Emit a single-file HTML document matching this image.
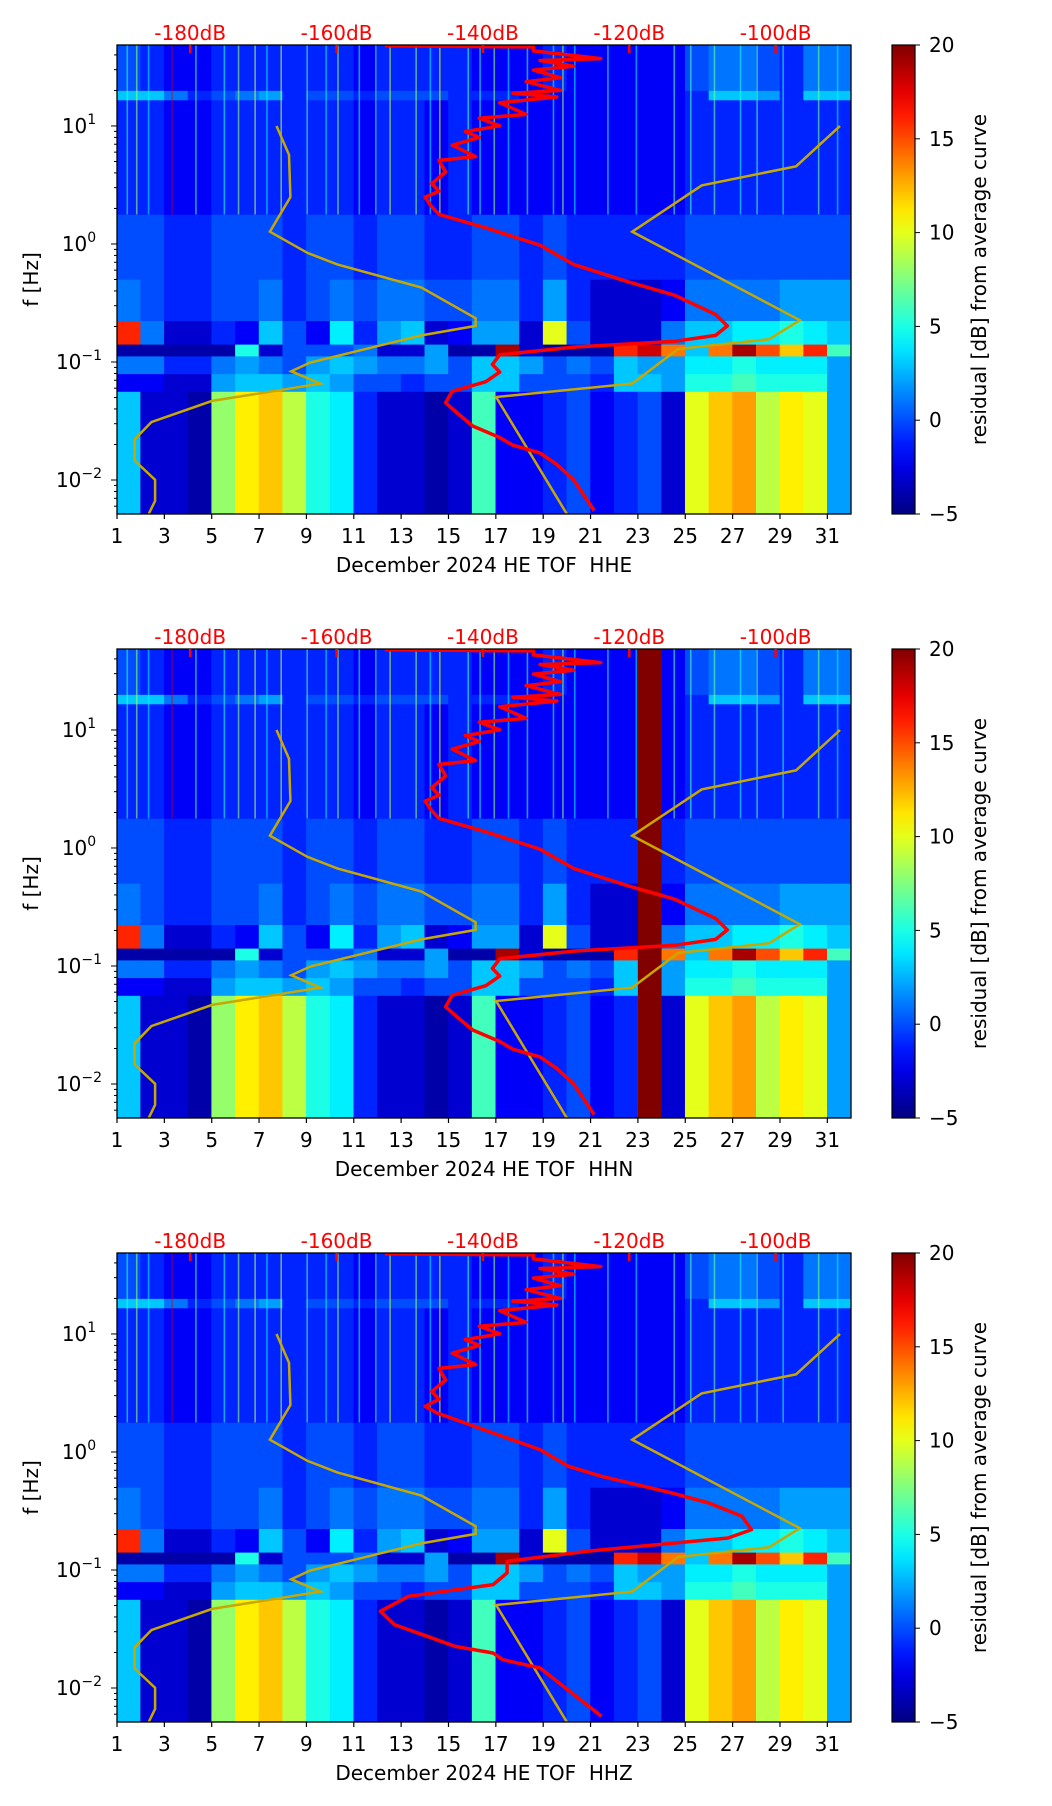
<!DOCTYPE html>
<html><head><meta charset="utf-8"><title>Spectrogram residuals HE TOF</title>
<style>
html,body{margin:0;padding:0;background:#fff}
svg{display:block;font-family:"DejaVu Sans","Liberation Sans",sans-serif}
</style></head>
<body>
<svg id="fig" width="1052" height="1806" viewBox="0 0 1052 1806" xmlns="http://www.w3.org/2000/svg"></svg>
<script>
// ---------- data ----------
const dayStart = 1, dayEnd = 32;
const logfMin = -2.288, logfMax = 1.686;
const dbMin = -190, dbMax = -89.7;
const cMin = -5, cMax = 20;
const xTicks = [1,3,5,7,9,11,13,15,17,19,21,23,25,27,29,31];
const yTickExp = [-2,-1,0,1];
const dbTicks = [-180,-160,-140,-120,-100];
const cbTicks = [-5,0,5,10,15,20];
const channels = ["HHE","HHN","HHZ"];

// frequency bands (log10 Hz edges)
const bandLo = [-2.288,-1.25,-1.1,-0.95,-0.85,-0.65,-0.3,0.25,1.22,1.30];
const bandHi = [-1.25,-1.1,-0.95,-0.85,-0.65,-0.3,0.25,1.22,1.30,1.686];
// residual values per band per day (31 days)
const band0 = [3,-3,-3,-4,8,11,12,9,5,4,-1,-3,-3,-4,-3,6,-2,-2,-1,0,-2,-1,0,-3,10,12,13,9,11,10,2];
const band1 = [-2,-2,-3,-3,2,3,3,2,3,2,0,0,-1,0,0,3,3,0,0,0,-1,3,3,2,5,5,6,5,5,5,2];
const band2 = [1,1,-1,-1,1,2,1,0,2,3,2,1,1,2,0,3,3,2,0,1,0,3,2,2,4,4,5,4,4,4,2];
const band3 = [-4,-4,-4,-4,-4,5,-3,0,0,0,1,-3,-3,2,-4,-4,19,-3,-4,-4,-4,16,18,14,3,14,19,15,12,16,6];
const band4 = [16,1,-3,-3,-1,-2,3,0,-2,4,-1,2,3,-3,-2,2,2,-3,10,0,-3,-3,-3,1,3,3,4,4,5,4,3];
const band5 = [1,0,-1,-1,0,0,1,-1,0,1,0,1,1,0,0,1,1,-1,2,-1,-3,-3,-3,-2,1,1,1,1,2,2,2];
const band6 = [0,0,-1,-1,0,0,0,-1,0,0,-1,0,0,-1,-1,0,0,-1,0,-1,-1,-1,-1,-1,0,0,0,0,0,0,0];
const band7 = [-1,-1,-2,-2,-1,-1,-1,-1,-1,-1,-2,-1,-1,-2,-1,-2,-2,-2,-2,-2,-2,-2,-2,-2,-1,-1,-1,-1,-1,-1,-1];
const band8 = [3,3,1,-1,0,1,2,-1,0,0,-1,0,0,0,-1,-1,-1,-2,-2,-2,-2,-2,-2,-2,-1,3,3,2,-1,3,3];
const band9 = [0,-1,-2,-2,-1,-1,-1,-1,-1,-1,-2,-1,-1,-1,-1,-2,-2,-2,-1,-2,-2,-2,-2,-2,0,1,1,0,-1,1,1];

// high-frequency transient streaks (day, value)
const streakDay = [1.4,1.8,2.3,3.3,4.3,5.5,6.1,6.8,7.3,7.9,9.0,9.8,10.3,11.2,11.9,12.5,13.6,14.2,14.6,15.8,16.3,16.9,17.5,18.3,19.4,19.8,20.3,21.7,22.9,24.5,25.2,26.2,27.3,28.0,29.1,30.6,31.4];
const streakVal = [5,8,4,18,6,5,8,9,4,9,6,4,8,5,6,9,8,4,10,6,5,8,4,6,5,8,4,5,4,6,6,7,5,6,5,7,4];

// mean PSD curve (dB, log10 f)
const redDb = [-153.4,-133.1,-133.1,-123.9,-132.2,-127.6,-133.1,-129.4,-134.1,-129.4,-135.9,-129.9,-137.7,-134.1,-140.5,-137.7,-142.4,-140.5,-144.2,-141.0,-146.0,-145.1,-147.0,-146.0,-147.9,-147.0,-146.0,-139.6,-132.2,-127.6,-120.2,-113.8,-108.2,-106.6,-108.2,-113.8,-127.6,-137.7,-138.7,-137.7,-139.6,-144.2,-145.1,-143.3,-141.4,-137.7,-135.9,-132.2,-129.9,-127.6,-124.8];
const redLogf = [1.679,1.67,1.636,1.571,1.555,1.506,1.473,1.408,1.375,1.301,1.278,1.245,1.197,1.098,1.066,1.001,0.952,0.903,0.837,0.740,0.708,0.610,0.512,0.447,0.397,0.316,0.251,0.137,-0.010,-0.173,-0.320,-0.434,-0.597,-0.694,-0.775,-0.825,-0.874,-0.939,-1.020,-1.086,-1.167,-1.248,-1.346,-1.444,-1.542,-1.640,-1.705,-1.770,-1.868,-1.998,-2.258];
const redDbZ = [-153.4,-133.1,-133.1,-123.9,-132.2,-127.6,-133.1,-129.4,-134.1,-129.4,-135.9,-129.9,-137.7,-134.1,-140.5,-137.7,-142.4,-140.5,-144.2,-141.0,-146.0,-145.1,-147.0,-146.0,-147.9,-146.3,-138.6,-132.2,-128.3,-123.8,-114.2,-109.1,-104.6,-103.3,-106.5,-125.8,-136.7,-136.7,-138.6,-150.2,-154.0,-152.1,-147.6,-143.8,-138.6,-137.3,-132.2,-129.6,-123.8];
const redLogfZ = [1.679,1.67,1.636,1.571,1.555,1.506,1.473,1.408,1.375,1.301,1.278,1.245,1.197,1.098,1.066,1.001,0.952,0.903,0.837,0.740,0.708,0.610,0.512,0.447,0.387,0.331,0.161,0.020,-0.121,-0.206,-0.347,-0.432,-0.545,-0.658,-0.729,-0.842,-0.926,-1.025,-1.124,-1.223,-1.350,-1.463,-1.562,-1.647,-1.703,-1.760,-1.830,-1.957,-2.240];
// noise models
const nlnmDb = [-168.2,-166.5,-166.3,-169.1,-164.0,-159.9,-148.4,-141.0,-141.0,-148.4,-163.6,-166.2,-162.2,-177.0,-185.3,-187.6,-187.6,-184.8,-184.8,-185.7];
const nlnmLogf = [1.0,0.756,0.397,0.104,-0.075,-0.173,-0.369,-0.629,-0.694,-0.775,-1.004,-1.079,-1.183,-1.330,-1.509,-1.656,-1.835,-1.998,-2.177,-2.291];
const nhnmDb = [-91.2,-97.2,-110.1,-119.6,-96.7,-100.9,-113.3,-119.6,-138.2,-128.5];
const nhnmLogf = [1.0,0.658,0.496,0.104,-0.646,-0.808,-0.889,-1.183,-1.297,-2.291];
// data gap (HHN)
const gapStart = [null, 23.0, null];
const gapEnd = [null, 24.0, null];

// ---------- layout ----------
const NS = "http://www.w3.org/2000/svg";
const svg = document.getElementById('fig');
const X0 = 117, X1 = 851, PH = 469, panelTop = [45, 649, 1253];
const CB0 = 892, CB1 = 915;
const FS = 20;
const bands = [band0,band1,band2,band3,band4,band5,band6,band7,band8,band9];

function mk(tag, attrs, parent){const e=document.createElementNS(NS,tag);for(const k in attrs)e.setAttribute(k,attrs[k]);(parent||svg).appendChild(e);return e;}
function clamp(v){return Math.max(0,Math.min(1,v));}
function jet(v){const t=clamp((v-cMin)/(cMax-cMin));const r=clamp(1.5-Math.abs(4*t-3)),g=clamp(1.5-Math.abs(4*t-2)),b=clamp(1.5-Math.abs(4*t-1));return `rgb(${Math.round(r*255)},${Math.round(g*255)},${Math.round(b*255)})`;}
const xDay = d => X0 + (d-dayStart)/(dayEnd-dayStart)*(X1-X0);
const xDb = db => X0 + (db-dbMin)/(dbMax-dbMin)*(X1-X0);

channels.forEach((ch, p) => {
  const T = panelTop[p], B = T + PH;
  const yF = lf => T + (logfMax-lf)/(logfMax-logfMin)*PH;
  const g = mk('g', {});
  
  
  const clipId = 'clip'+p;
  const cp = mk('clipPath', {id: clipId}, g);
  mk('rect', {x:X0, y:T, width:X1-X0, height:PH}, cp);
  const hm = mk('g', {'clip-path':`url(#${clipId})`}, g);
  
  
  bands.forEach((vals, r) => {
    vals.forEach((v, d) => {
      const c = mk('rect', {x:xDay(d+1)-0.3, y:yF(bandHi[r])-0.3, width:xDay(d+2)-xDay(d+1)+0.6, height:yF(bandLo[r])-yF(bandHi[r])+0.6, fill:jet(v)}, hm);
      
      
    });
  });
  streakDay.forEach((d, i) => {
    const s = mk('rect', {x:xDay(d), y:T, width:d===3.3?1.2:1.6, height:yF(0.25)-T, fill:jet(streakVal[i]), opacity:0.6}, hm);
    
    
  });
  if (gapStart[p] !== null) {
    const gr = mk('rect', {x:xDay(gapStart[p]), y:T, width:xDay(gapEnd[p])-xDay(gapStart[p]), height:PH, fill:jet(20)}, hm);
    
    
  }
  const rd = p===2 ? redDbZ : redDb, rl = p===2 ? redLogfZ : redLogf;
  const pts = (dbs, lfs) => dbs.map((v,i)=>`${xDb(v).toFixed(1)},${yF(lfs[i]).toFixed(1)}`).join(' ');
  const nl = mk('polyline', {points:pts(nlnmDb,nlnmLogf), fill:'none', stroke:'#c8a800', 'stroke-width':2.5}, hm);
   
  const nh = mk('polyline', {points:pts(nhnmDb,nhnmLogf), fill:'none', stroke:'#c8a800', 'stroke-width':2.5}, hm);
   
  const rc = mk('polyline', {points:pts(rd,rl), fill:'none', stroke:'#ff0000', 'stroke-width':3.5, 'stroke-linejoin':'round'}, hm);
   
  const fr = mk('rect', {x:X0, y:T, width:X1-X0, height:PH, fill:'none', stroke:'#000', 'stroke-width':1.3}, g);
   
  xTicks.forEach(d => {
    const x = xDay(d);
    mk('line', {x1:x, y1:B, x2:x, y2:B+5, stroke:'#000', 'stroke-width':1.2}, g);
    const t = mk('text', {x:x, y:B+29, 'text-anchor':'middle', 'font-size':FS, fill:'#000'}, g);
    t.textContent = d;
     
  });
  const xl = mk('text', {x:(X0+X1)/2, y:B+58, 'text-anchor':'middle', 'font-size':FS, fill:'#000'}, g);
  xl.textContent = 'December 2024 HE TOF\u00a0\u00a0' + ch;
   
  for (let e=-3; e<=1; e++) for (let m=1; m<=9; m++) {
    const lf = e + Math.log10(m);
    if (lf < logfMin || lf > logfMax) continue;
    const y = yF(lf);
    mk('line', {x1:X0, y1:y, x2:X0-(m===1?6:3), y2:y, stroke:'#000', 'stroke-width':1}, g);
  }
  yTickExp.forEach(e => {
    const y = yF(e);
    const t = mk('text', {x:X0-38, y:y+7, 'text-anchor':'middle', 'font-size':FS, fill:'#000'}, g);
    t.textContent = '10';
    const s = mk('tspan', {dy:-9, 'font-size':14}, t);
    s.textContent = e < 0 ? '\u2212' + Math.abs(e) : String(e);
     
  });
  const yl = mk('text', {x:0, y:0, 'text-anchor':'middle', 'font-size':FS, fill:'#000', transform:`translate(38,${T+PH/2}) rotate(-90)`}, g);
  yl.textContent = 'f [Hz]';
   
  dbTicks.forEach(db => {
    const x = xDb(db);
    mk('line', {x1:x, y1:T, x2:x, y2:T+8, stroke:'#ff0000', 'stroke-width':2.5}, g);
    const t = mk('text', {x:x, y:T-5, 'text-anchor':'middle', 'font-size':FS, fill:'#ff0000'}, g);
    t.textContent = db + 'dB';
     
  });
  const gid = 'cbg'+p;
  const lg = mk('linearGradient', {id:gid, x1:0, y1:1, x2:0, y2:0}, g);
  for (let i=0;i<=20;i++){const v=cMin+(cMax-cMin)*i/20;mk('stop',{offset:i/20,'stop-color':jet(v)},lg);}
  const cb = mk('rect', {x:CB0, y:T, width:CB1-CB0, height:PH, fill:`url(#${gid})`, stroke:'#000', 'stroke-width':1.2}, g);
   
  cbTicks.forEach(v => {
    const y = B - (v-cMin)/(cMax-cMin)*PH;
    mk('line', {x1:CB1, y1:y, x2:CB1+5, y2:y, stroke:'#000', 'stroke-width':1}, g);
    const t = mk('text', {x:CB1+14, y:y+7, 'font-size':FS, fill:'#000'}, g);
    t.textContent = v < 0 ? '\u2212' + Math.abs(v) : String(v);
     
  });
  const cl = mk('text', {x:0, y:0, 'text-anchor':'middle', 'font-size':FS, fill:'#000', transform:`translate(986,${T+PH/2}) rotate(-90)`}, g);
  cl.textContent = 'residual [dB] from average curve';
   
});
</script>
</body></html>
